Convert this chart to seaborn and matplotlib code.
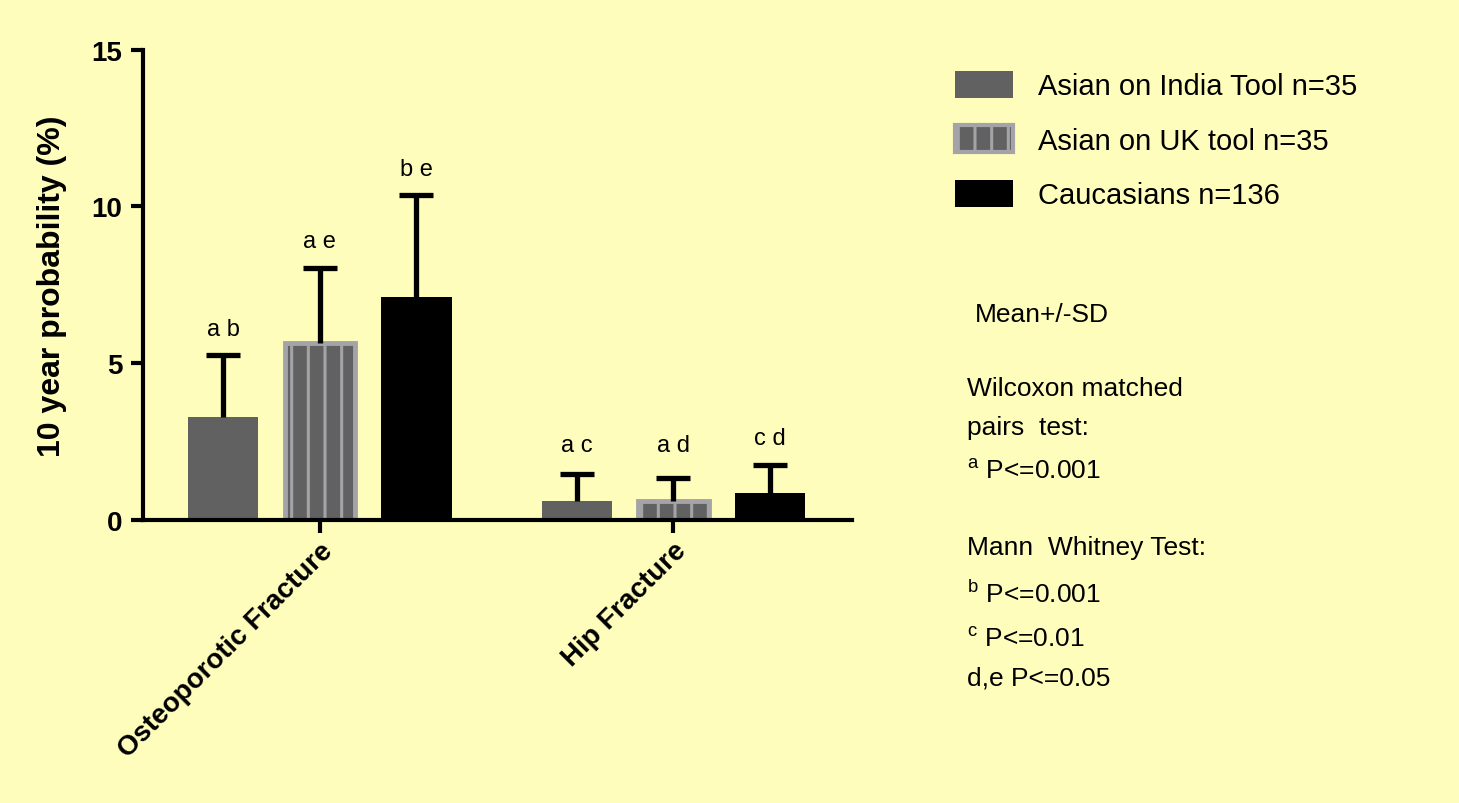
import matplotlib
matplotlib.use("Agg")
import matplotlib.pyplot as plt
import matplotlib.patches as mpatches
import numpy as np
import pandas as pd
import seaborn as sns

# --- data (mean and SD, 10 year probability %) ---
fractures = ["Osteoporotic Fracture", "Hip Fracture"]
groups = ["Asian on India Tool n=35", "Asian on UK tool n=35", "Caucasians n=136"]
mean_india = [3.3, 0.6]
sd_india = [1.95, 0.87]
mean_uk = [5.65, 0.6]
sd_uk = [2.4, 0.75]
mean_cauc = [7.1, 0.85]
sd_cauc = [3.25, 0.9]
letters_india = ["a b", "a c"]
letters_uk = ["a e", "a d"]
letters_cauc = ["b e", "c d"]

notes = [
    (0.668, 0.608, "Mean+/-SD"),
    (0.663, 0.516, "Wilcoxon matched"),
    (0.663, 0.468, "pairs  test:"),
    (0.663, 0.413, r"$^{\mathregular{a}}$ P<=0.001"),
    (0.663, 0.318, "Mann  Whitney Test:"),
    (0.663, 0.261, r"$^{\mathregular{b}}$ P<=0.001"),
    (0.663, 0.205, r"$^{\mathregular{c}}$ P<=0.01"),
    (0.663, 0.156, "d,e P<=0.05"),
]

BG = "#FFFDBB"
DARK = "#616161"
LIGHT = "#A4A4A8"
colors = [DARK, DARK, "black"]

df = pd.DataFrame({
    "fracture": fractures * 3,
    "group": [g for g in groups for _ in fractures],
    "mean": mean_india + mean_uk + mean_cauc,
    "sd": sd_india + sd_uk + sd_cauc,
    "letters": letters_india + letters_uk + letters_cauc,
})

sns.set_theme(style="ticks")
plt.rcParams["font.family"] = ["Liberation Sans", "DejaVu Sans"]
plt.rcParams["hatch.linewidth"] = 2.2
plt.rcParams["mathtext.fontset"] = "custom"
plt.rcParams["mathtext.rm"] = "Liberation Sans"
for key in ["text.color", "axes.labelcolor", "xtick.color", "ytick.color"]:
    plt.rcParams[key] = "black"

fig = plt.figure(figsize=(14.59, 8.04), dpi=100, facecolor=BG)
ax = fig.add_axes([0.098, 0.352, 0.486, 0.585], facecolor=BG)

sns.barplot(
    data=df, x="fracture", y="mean", hue="group", hue_order=groups,
    palette=colors, errorbar=None, width=0.82, gap=0.27,
    saturation=1, legend=False, ax=ax,
)

for i, (cont, g) in enumerate(zip(ax.containers, groups)):
    sub = df[df["group"] == g]
    xs, ys = [], []
    for bar in cont:
        bar.set_edgecolor("none")
        if i == 1:
            bar.set_facecolor(DARK)
            bar.set_edgecolor(LIGHT)
            bar.set_linewidth(3.5)
            bar.set_hatch("|")
        xs.append(bar.get_x() + bar.get_width() / 2)
        ys.append(bar.get_height())
    xs = np.array(xs)
    ys = np.array(ys)
    sd = sub["sd"].to_numpy()
    eb = ax.errorbar(xs, ys, yerr=[np.zeros_like(sd), sd], fmt="none",
                     ecolor="black", elinewidth=3.8, capsize=12, capthick=3.8,
                     zorder=1)
    eb[1][0].set_visible(False)  # one-sided: drop the lower caps
    label_y = np.maximum(ys + sd + 0.85, 2.4)
    for x, y, t in zip(xs, label_y, sub["letters"]):
        ax.text(x, y, t, ha="center", va="center", fontsize=17, color="black")

ax.set_ylim(0, 15)
ax.set_xlim(-0.5, 1.505)
ax.set_yticks([0, 5, 10, 15])
ax.set_xlabel("")
ax.set_ylabel("10 year probability (%)", fontsize=23, fontweight="bold")
ax.yaxis.set_label_coords(-0.107, 0.5)
sns.despine(ax=ax)
for side in ["left", "bottom"]:
    ax.spines[side].set_linewidth(3)
    ax.spines[side].set_color("black")
ax.tick_params(axis="both", width=3, length=9, color="black", labelcolor="black")
ax.tick_params(axis="y", pad=6, labelsize=20)
for lab in ax.get_yticklabels():
    lab.set_fontweight("bold")
ax.set_xticks(range(len(fractures)))
ax.set_xticklabels(fractures, rotation=45, ha="right", va="top",
                   rotation_mode="anchor", fontsize=20, fontweight="bold")

handles = [
    mpatches.Patch(facecolor=DARK, edgecolor="none", label=groups[0]),
    mpatches.Patch(facecolor=DARK, edgecolor=LIGHT, linewidth=3, hatch="|", label=groups[1]),
    mpatches.Patch(facecolor="black", edgecolor="none", label=groups[2]),
]
fig.legend(handles=handles, loc="upper left", bbox_to_anchor=(0.6465, 0.925),
           frameon=False, fontsize=21, handlelength=2.0, handleheight=1.05,
           handletextpad=0.85, labelspacing=0.85, borderaxespad=0,
           labelcolor="black")

for x, y, t in notes:
    fig.text(x, y, t, fontsize=19, ha="left", va="center", color="black")

fig.savefig("out.png", dpi=100, facecolor=BG)
